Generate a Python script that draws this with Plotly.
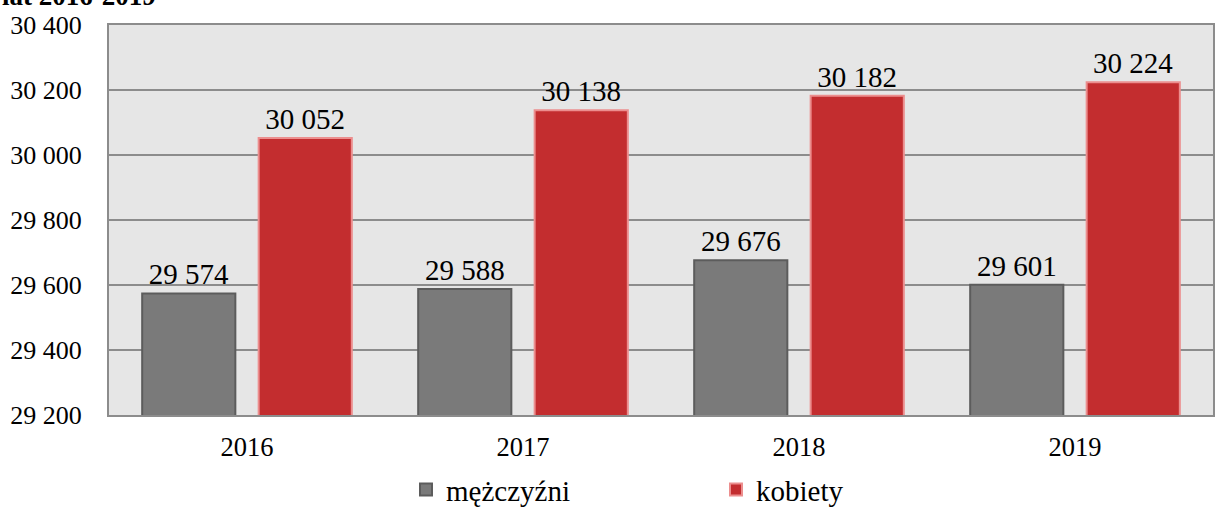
import plotly.graph_objects as go

years = ["2016", "2017", "2018", "2019"]
men = [29574, 29588, 29676, 29601]
women = [30052, 30138, 30182, 30224]
y_ticks = [29200, 29400, 29600, 29800, 30000, 30200, 30400]

serif = "Liberation Serif"

fig = go.Figure()
fig.add_trace(go.Bar(
    x=years, y=men, name="mężczyźni",
    marker=dict(color="#7a7a7a", line=dict(color="#5c5c5c", width=2)),
    texttemplate="%{y:,d}", textposition="outside",
    textfont=dict(size=29, color="#000000", family=serif),
    cliponaxis=False,
))
fig.add_trace(go.Bar(
    x=years, y=women, name="kobiety",
    marker=dict(color="#c32d2f", line=dict(color="#ec8e8e", width=2)),
    texttemplate="%{y:,d}", textposition="outside",
    textfont=dict(size=29, color="#000000", family=serif),
    cliponaxis=False,
))

# title of the chart, mostly cut off by the top edge as in the source
fig.add_annotation(
    text="<b>lat 2016-2019</b>", xref="paper", yref="paper",
    x=-0.0987, y=1.03, xanchor="left", yanchor="bottom",
    showarrow=False, font=dict(size=27, family=serif, color="#000000"),
)

fig.update_layout(
    width=1215, height=507,
    margin=dict(l=109, r=2, t=25, b=92),
    paper_bgcolor="white",
    plot_bgcolor="#e6e6e6",
    font=dict(family=serif, size=26, color="#000000"),
    separators=", ",
    barmode="group",
    bargap=0.156,
    bargroupgap=0.2,
    showlegend=True,
    legend=dict(
        orientation="h", x=0.269, xanchor="left",
        yref="container", y=0.034, yanchor="middle",
        bgcolor="rgba(0,0,0,0)",
        entrywidth=265, entrywidthmode="pixels",
        font=dict(size=29, family=serif, color="#000000"), itemwidth=30,
    ),
    xaxis=dict(
        showline=True, linecolor="#8c8c8c", linewidth=2, mirror=True,
        ticks="", ticklabelstandoff=7, automargin=False,
        tickfont=dict(size=26.5, family=serif, color="#000000"),
    ),
    yaxis=dict(
        range=[29200, 30400], tickvals=y_ticks, tickformat=",d",
        showgrid=True, gridcolor="#8c8c8c", gridwidth=2,
        showline=True, linecolor="#8c8c8c", linewidth=2, mirror=True,
        zeroline=False, ticks="", ticklabelstandoff=20, automargin=False,
        tickfont=dict(size=26, family=serif, color="#000000"),
    ),
)

# the page body has a default 8px margin; drop it so the figure fills the window
fig.write_html("out.html", config={"displayModeBar": False},
               post_script="document.body.style.margin='0';")
